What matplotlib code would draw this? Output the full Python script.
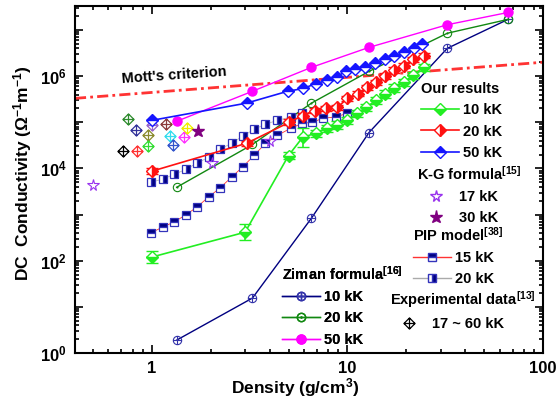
import numpy as np
import matplotlib
matplotlib.use("Agg")
import matplotlib.pyplot as plt
from matplotlib.path import Path
from matplotlib.lines import Line2D
from matplotlib.ticker import LogLocator, FuncFormatter, NullFormatter

plt.rcParams['font.family'] = ['Liberation Sans', 'DejaVu Sans']
plt.rcParams['font.weight'] = 'bold'
plt.rcParams['mathtext.fontset'] = 'custom'
for k in ['rm', 'it', 'bf', 'sf']:
    plt.rcParams['mathtext.' + k] = 'Liberation Sans:bold'

# ---------------- data ----------------
# Our results
our10_x = [1.0, 3.0, 5.0, 5.9, 6.9, 7.9, 8.9, 10.0, 11.2, 12.5, 14.0, 15.6, 17.4, 19.4, 21.7, 24.5]
our10_y = [120, 415, 1.9e4, 4.7e4, 5.8e4, 7.4e4, 8.7e4, 1.1e5, 1.56e5, 2.1e5, 3.0e5, 4.1e5, 5.5e5, 7.3e5, 1.05e6, 1.55e6]
our10_err = [0.35, 0.5, 0.2, 0.6, 0.2, 0.2, 0.2, 0.2, 0.2, 0.2, 0.2, 0.2, 0.2, 0.2, 0.2, 0.2]

our20_x = [1.0, 3.05, 5.05, 5.9, 6.8, 7.8, 8.9, 10.0, 11.3, 12.6, 14.0, 15.6, 17.4, 19.4, 21.7, 24.5]
our20_y = [8.7e3, 3.5e4, 1.0e5, 1.4e5, 1.8e5, 2.0e5, 2.1e5, 3.3e5, 4.2e5, 5.7e5, 7.3e5, 1.0e6, 1.35e6, 1.7e6, 2.3e6, 2.8e6]
our20_err = [0.15] * 16

our50_x = [1.0, 3.05, 4.95, 5.95, 6.9, 7.9, 8.8, 9.8, 11.0, 12.3, 13.8, 15.5, 17.4, 19.5, 21.8, 24.0]
our50_y = [1.1e5, 2.6e5, 4.7e5, 5.4e5, 6.9e5, 8.1e5, 9.4e5, 1.3e6, 1.45e6, 1.6e6, 1.9e6, 2.3e6, 2.7e6, 3.3e6, 4.0e6, 4.9e6]

# K-G formula
kg17_x = [0.5, 2.02, 4.0]
kg17_y = [4.3e3, 1.3e4, 3.9e4]
kg30_x = [1.72]
kg30_y = [6.4e4]

# PIP model
pip_x = [0.99, 1.14, 1.30, 1.49, 1.70, 1.95, 2.22, 2.56, 2.91, 3.35, 3.81, 4.39, 5.12, 5.89, 6.62, 7.53, 8.7, 9.9]
pip15_y = [400, 540, 690, 980, 1450, 2400, 3700, 6500, 1.07e4, 1.95e4, 3.5e4, 5.2e4, 7.4e4, 9.5e4, 1.0e5, 1.23e5, 1.3e5, 1.55e5]
pip20_y = [5.0e3, 5.9e3, 7.4e3, 9.5e3, 1.3e4, 1.74e4, 2.6e4, 3.5e4, 5.0e4, 7.1e4, 9.1e4, 1.1e5, 1.3e5, 1.55e5]

# Ziman formula
zim_x = [1.34, 3.27, 6.55, 12.9, 32.4, 66.3]
zim10_y = [1.9, 15.5, 835, 6.0e4, 4.0e6, 1.7e7]
zim20_y = [3.9e3, 3.3e4, 2.6e5, 1.27e6, 8.5e6, 1.7e7]
zim50_y = [1.05e5, 4.7e5, 1.55e6, 4.2e6, 1.3e7, 2.4e7]

# Experimental data
exp_x = [0.755, 0.83, 1.0, 1.18, 0.954, 0.71, 0.84, 0.954, 1.24, 1.28, 1.46, 1.51]
exp_y = [1.16e5, 6.7e4, 8.7e4, 9.1e4, 5.2e4, 2.35e4, 2.35e4, 3.0e4, 5.0e4, 3.2e4, 4.8e4, 7.4e4]
exp_c = ['#2E8B2E', '#33339A', '#9966CC', '#8B3A3A', '#8B8B2E', '#000000',
         '#FF3333', '#33DD33', '#33DDEE', '#3355CC', '#FF33FF', '#EEEE00']

# Mott's criterion
mott_x = [0.405, 100]
mott_y = [3.3e5, 2.0e6]

# ---------------- markers ----------------
M, L, C = Path.MOVETO, Path.LINETO, Path.CLOSEPOLY
diamond_plus = Path([(0, 1), (1, 0), (0, -1), (-1, 0), (0, 1), (0, 1), (0, -1), (-1, 0), (1, 0)],
                    [M, L, L, L, C, M, L, M, L])
cross = Path([(0, 1), (0, -1), (-1, 0), (1, 0)], [M, L, M, L])
circle_plus = Path.make_compound_path(Path.unit_circle(), cross)
small = Path(Path.unit_circle().vertices * 0.12, Path.unit_circle().codes)
circle_dot = Path.make_compound_path(Path.unit_circle(), small)

# ---------------- figure ----------------
fig = plt.figure(figsize=(5.56, 4.04), dpi=100)
ax = fig.add_axes([75 / 556, 51 / 404, 468 / 556, 347 / 404])
ax.set_xscale('log')
ax.set_yscale('log')
ax.set_xlim(0.405, 100)
ax.set_ylim(1, 10 ** 7.52)

green, red, blue = '#22EE22', '#FF1111', '#1515FF'
navy = '#000080'

# Mott's criterion
ax.plot(mott_x, mott_y, color='#FF3333', lw=2.0, linestyle=(0, (4, 1.5, 1, 1.5)), zorder=2)
ax.text(0.70, 7.0e5, "Mott's criterion", fontsize=10.5, fontweight='bold', rotation=4,
        ha='left', va='baseline')

# Ziman
ax.plot(zim_x, zim10_y, color=navy, lw=1.0, marker=circle_plus, ms=6, mfc='none', mec='#3333AA', mew=0.8, zorder=3)
ax.plot(zim_x, zim20_y, color='#118811', lw=1.0, marker=circle_dot, ms=6, mfc='none', mec='#118811', mew=0.8, zorder=3)
ax.plot(zim_x, zim50_y, color='#FF00FF', lw=1.0, marker='o', ms=6.5, mfc='#FF00FF', mec='#FF00FF', zorder=3)

# PIP
ax.plot(pip_x, pip15_y, color='#FF3333', lw=0.6, marker='s', ms=5.8, fillstyle='top',
        mfc=navy, mfcalt='white', mec='#3333BB', mew=0.9, zorder=4)
ax.plot(pip_x[:len(pip20_y)], pip20_y, color='#BBBBBB', lw=0.6, marker='s', ms=5.8, fillstyle='right',
        mfc=navy, mfcalt='white', mec='#3333BB', mew=0.9, zorder=4)

# Experimental
for xx, yy, cc in zip(exp_x, exp_y, exp_c):
    ax.plot([xx], [yy], linestyle='none', marker=diamond_plus, ms=8, mfc='none', mec=cc, mew=0.9, zorder=5)

# K-G
ax.plot(kg17_x, kg17_y, linestyle='none', marker='*', ms=8.5, mfc='none', mec='#9933EE', mew=0.8, zorder=5)
ax.plot(kg30_x, kg30_y, linestyle='none', marker='*', ms=9.5, mfc='#800080', mec='#800080', zorder=5)

# Our results
def errs(y, f):
    y = np.asarray(y, float)
    f = np.asarray(f, float)
    return [y - y / (1 + f), y * f]

ax.errorbar(our10_x, our10_y, yerr=errs(our10_y, our10_err), color=green, lw=1.2, marker='D', ms=6,
            fillstyle='bottom', mfc=green, mfcalt='white', mec=green, mew=1.0, capsize=4, elinewidth=1.2, zorder=6)
ax.errorbar(our20_x, our20_y, yerr=errs(our20_y, our20_err), color=red, lw=1.2, marker='D', ms=6,
            fillstyle='right', mfc=red, mfcalt='white', mec=red, mew=1.0, capsize=4, elinewidth=1.2, zorder=6)
ax.plot(our50_x, our50_y, color=blue, lw=1.2, marker='D', ms=6,
        fillstyle='top', mfc=blue, mfcalt='white', mec=blue, mew=1.0, zorder=6)

# ---------------- axes styling ----------------
for s in ax.spines.values():
    s.set_linewidth(1.5)
ax.tick_params(which='both', direction='in', top=True, right=True, width=1.2)
ax.tick_params(which='major', length=6, labelsize=12, pad=6)
ax.tick_params(which='minor', length=3)
ax.yaxis.set_major_locator(LogLocator(base=10, numticks=20))
ax.yaxis.set_minor_locator(LogLocator(base=10, subs=np.arange(2, 10), numticks=20))
ax.yaxis.set_major_formatter(FuncFormatter(lambda v, p: ("10$^{%d}$" % round(np.log10(v))) if round(np.log10(v)) % 2 == 0 else ""))
ax.yaxis.set_minor_formatter(NullFormatter())
ax.xaxis.set_major_formatter(FuncFormatter(lambda v, p: "%g" % v))
ax.xaxis.set_minor_formatter(NullFormatter())
for lab in ax.get_xticklabels() + ax.get_yticklabels():
    lab.set_fontweight('bold')

ax.set_xlabel("Density (g/cm$^3$)", fontsize=12.5, fontweight='bold')
ax.set_ylabel("DC  Conductivity ($\\Omega^{-1}$m$^{-1}$)", fontsize=12.5, fontweight='bold')
ax.xaxis.set_label_coords(0.47, -0.068)
ax.yaxis.set_label_coords(-0.088, 0.52)

# ---------------- legends ----------------
FS = 10.5
def make_leg(handles, labels, title, x, y):
    leg = ax.legend(handles, labels, title=title, loc='upper left',
                    bbox_to_anchor=(x / 556, 1 - y / 404), bbox_transform=fig.transFigure,
                    frameon=False, fontsize=FS, title_fontsize=FS, handlelength=2.6,
                    handletextpad=0.25, labelspacing=0.5, borderpad=0, borderaxespad=0,
                    alignment='left', numpoints=1)
    leg.get_title().set_fontweight('bold')
    for t in leg.get_texts():
        t.set_fontweight('bold')
    ax.add_artist(leg)
    return leg

h_our = [Line2D([], [], color=green, lw=1.2, marker='D', ms=6, fillstyle='bottom', mfc=green, mfcalt='white', mec=green),
         Line2D([], [], color=red, lw=1.2, marker='D', ms=6, fillstyle='right', mfc=red, mfcalt='white', mec=red),
         Line2D([], [], color=blue, lw=1.2, marker='D', ms=6, fillstyle='top', mfc=blue, mfcalt='white', mec=blue)]
make_leg(h_our, ['10 kK', '20 kK', '50 kK'], 'Our results', 421, 82)

h_kg = [Line2D([], [], ls='none', marker='*', ms=8.5, mfc='none', mec='#9933EE'),
        Line2D([], [], ls='none', marker='*', ms=9.5, mfc='#800080', mec='#800080')]
make_leg(h_kg, ['17 kK', '30 kK'], 'K-G formula$^{[15]}$', 417, 165)

h_pip = [Line2D([], [], color='#FF3333', lw=1.0, marker='s', ms=5.8, fillstyle='top', mfc=navy, mfcalt='white', mec='#3333BB'),
         Line2D([], [], color='#AAAAAA', lw=1.0, marker='s', ms=5.8, fillstyle='right', mfc=navy, mfcalt='white', mec='#3333BB')]
make_leg(h_pip, ['15 kK', '20 kK'], 'PIP model$^{[38]}$', 413, 226)

h_exp = [Line2D([], [], ls='none', marker=diamond_plus, ms=8, mfc='none', mec='black', mew=0.9)]
make_leg(h_exp, ['17 ~ 60 kK'], 'Experimental data$^{[13]}$', 390, 289)

h_zim = [Line2D([], [], color=navy, lw=1.0, marker=circle_plus, ms=6, mfc='none', mec='#3333AA'),
         Line2D([], [], color='#118811', lw=1.0, marker=circle_dot, ms=6, mfc='none', mec='#118811'),
         Line2D([], [], color='#FF00FF', lw=1.0, marker='o', ms=6.5, mfc='#FF00FF', mec='#FF00FF')]
make_leg(h_zim, ['10 kK', '20 kK', '50 kK'], 'Ziman formula$^{[16]}$', 282, 265)

fig.savefig('out.png', dpi=100)
